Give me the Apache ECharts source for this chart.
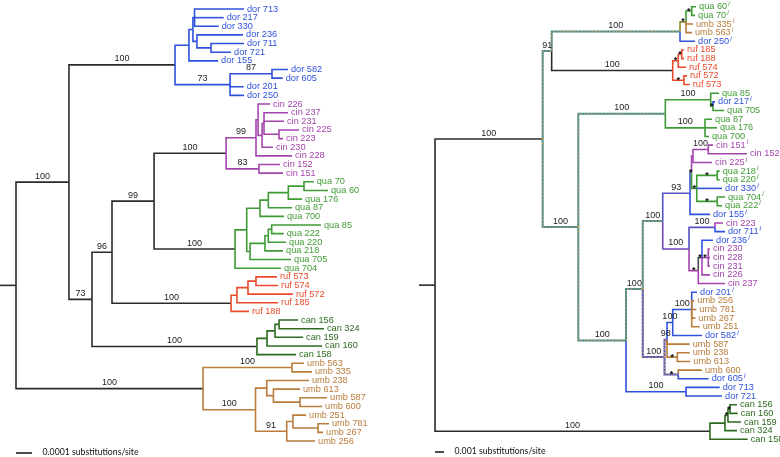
<!DOCTYPE html>
<html><head><meta charset="utf-8">
<script src="https://cdn.jsdelivr.net/npm/echarts@6/dist/echarts.min.js"></script>
<style>html,body{margin:0;padding:0;background:#fff}#c{width:780px;height:457px}</style>
</head><body><div id="c"></div>
<script>
// ---------- LEFT TREE (depth in units of 0.0001 substitutions/site) ----------
const leftInternal = [
  ['root',null,1.0],['IN','root',4.31],['A','IN',10.94],['B','A',11.81],['D','B',12.06],
  ['E','D',12.16],['F','D',12.31],['G','F',13.19],['C','A',14.38],['H','C',17.0],
  ['J','IN',5.75],['K','J',7.0],['L','K',9.63],
  ['CI0','L',14.13],['CI1','CI0',16.0],['CI3','CI1',16.13],['CI4','CI3',16.38],['CI5','CI4',16.5],['CI6','CI5',17.44],['CI2','CI0',16.19],
  ['Q0','L',14.69],['Q1','Q0',15.42],['Q10','Q1',16.25],['Q9','Q10',16.77],['Q8','Q9',18.02],['Q7','Q8',19.0],
  ['Q3','Q1',15.63],['Q4','Q3',16.56],['Q5','Q4',16.77],['Q6','Q5',16.98],
  ['R0','K',14.44],['R1','R0',14.81],['R2','R1',15.5],['R3','R2',16.0],
  ['C0','J',16.06],['C1','C0',16.69],['C2','C1',17.19],['C3','C2',17.44],
  ['U0','root',12.69],['U1','U0',18.25],['U2','U0',15.97],['U3','U2',16.67],['U5','U3',17.09],['U6','U5',18.75],
  ['U4','U2',17.92],['U7','U4',18.31],['U8','U7',19.88]
];
const leftLeaves = [
  ['dor 713','E',15.25],['dor 217','E',13.98],['dor 330','E',13.67],['dor 236','F',15.19],['dor 711','G',15.25],
  ['dor 721','G',14.44],['dor 155','B',13.63],['dor 582','H',18.0],['dor 605','H',17.67],['dor 201','C',15.23],['dor 250','C',15.25],
  ['cin 226','CI3',16.88],['cin 237','CI5',18.0],['cin 231','CI5',17.75],['cin 225','CI6',18.69],['cin 223','CI6',17.69],
  ['cin 230','CI4',17.06],['cin 228','CI1',18.25],['cin 152','CI2',17.5],['cin 151','CI2',17.69],
  ['qua 70','Q7',19.61],['qua 60','Q7',20.5],['qua 176','Q8',18.88],['qua 87','Q9',18.25],['qua 700','Q10',17.75],
  ['qua 85','Q6',20.06],['qua 222','Q6',17.73],['qua 220','Q5',17.88],['qua 218','Q4',17.69],['qua 705','Q3',18.19],['qua 704','Q0',17.56],
  ['ruf 573','R3',17.31],['ruf 574','R3',17.38],['ruf 572','R2',18.31],['ruf 185','R1',17.38],['ruf 188','R0',15.56],
  ['can 156','C3',18.63],['can 324','C3',20.25],['can 159','C2',18.94],['can 160','C1',20.13],['can 158','C0',18.5],
  ['umb 563','U1',19.0],['umb 335','U1',19.5],['umb 238','U3',19.31],['umb 613','U5',18.75],['umb 587','U6',20.44],
  ['umb 600','U6',20.13],['umb 251','U7',19.13],['umb 781','U8',20.56],['umb 267','U8',20.19],['umb 256','U4',19.69]
];
const leftSupport = [
  ['IN',100],['A',100],['C',73],['H',87],['J',73],['K',96],['L',99],['CI0',100],['CI1',99],['CI2',83],
  ['Q0',100],['R0',100],['C0',100],['U0',100],['U1',100],['U2',100],['U4',91]
];
const leftScale = [1, '0.0001 substitutions/site'];

// ---------- RIGHT TREE (depth in units of 0.001 substitutions/site) ----------
const rightInternal = [
  ['root',null,1.78],['IG','root',13.74],['N91','IG',14.74],['A100','N91',29.0],['T1','A100',29.67],['T2','T1',30.3],
  ['R0','N91',28.19],['R2','R0',28.81],['R1','R2',29.19],['R3','R0',29.44],
  ['B1','IG',17.7],['QA','B1',27.37],['QB','QA',32.41],['QB2','QB',32.67],['QC','QA',31.78],
  ['B2','B1',23.0],['B3','B2',24.86],['X1','B3',27.08],['N93','X1',30.11],['P0','N93',30.28],['P1','P0',30.44],
  ['CN','P1',32.14],['G0','P0',30.86],['G1','G0',33.14],['G3','G0',33.14],
  ['NCI','X1',30.0],['N223','NCI',32.89],['Y1','NCI',31.03],['Y2','Y1',31.44],['Y3','Y2',32.14],
  ['X2','B3',27.28],['Z98','X2',27.56],['Zb','Z98',28.19],['Zc','Zb',30.3],['Z238','Z98',28.7],['Z600','X2',28.81],
  ['D713','B2',29.67],['K0','root',32.33],['K1','K0',34.0],['K2','K1',34.33],['K3','K2',34.56]
];
const rightLeaves = [
  ['qua 60','T2',30.78],['qua 70','T2',30.67],['umb 335','T1',30.44],['umb 563','T1',30.33],['dor 250','A100',30.67],
  ['ruf 185','R1',29.44],['ruf 188','R1',29.44],['ruf 574','R2',29.67],['ruf 572','R3',29.78],['ruf 573','R3',30.08],
  ['qua 85','QB',33.33],['dor 217','QB2',32.89],['qua 705','QB2',33.89],['qua 87','QC',32.56],['qua 176','QC',33.11],['qua 700','QC',32.22],
  ['cin 151','CN',32.67],['cin 152','CN',36.44],['cin 225','P1',32.56],['qua 218','G1',33.41],['qua 220','G1',33.41],
  ['dor 330','G0',33.67],['qua 704','G3',34.0],['qua 222','G3',33.67],['dor 155','N93',32.33],
  ['cin 223','N223',33.78],['dor 711','N223',34.0],['dor 236','Y2',32.67],['cin 230','Y3',32.33],['cin 228','Y3',32.33],
  ['cin 231','Y3',32.33],['cin 226','Y2',32.33],['cin 237','Y1',34.0],
  ['dor 201','Zc',30.89],['umb 256','Zc',30.59],['umb 781','Zc',30.81],['umb 267','Zc',30.7],['umb 251','Zc',31.19],
  ['dor 582','Zb',31.44],['umb 587','Z98',30.08],['umb 238','Z238',30.08],['umb 613','Z238',30.14],
  ['umb 600','Z600',31.44],['dor 605','Z600',32.19],['dor 713','D713',33.41],['dor 721','D713',33.67],
  ['can 156','K3',35.33],['can 160','K3',35.41],['can 159','K2',35.78],['can 324','K1',35.33],['can 158','K0',36.52]
];
const rightSupport = [
  ['IG',100],['N91',91],['A100',100],['R0',100],['B1',100],['QA',100],['QB',100],['QC',100],['B2',100],['B3',100],
  ['X1',100],['N93',93],['CN',100],['NCI',100],['N223',100],['X2',100],['Z98',98],['Zb',100],['Zc',100],['D713',100],['K0',100]
];
const rightStars = ['T1','T2','R1','R2','R3','QB2','P0','G0','G1','G3','Y1','Y2','Y3','Z238','Z600','K2','K3'];
const rightMarked = ['qua 60','qua 70','umb 335','umb 563','dor 250','dor 217','cin 151','cin 152','cin 225','qua 218','qua 220',
  'dor 330','qua 704','qua 222','dor 155','dor 711','dor 236','dor 201','dor 582','dor 605'];
const rightBranchStyle = [
  ['IG','k'],['N91','dotT'],['A100','dotT'],['T1','olive'],['T2','qua'],['R0','k'],['R1','ruf'],['R2','ruf'],['R3','ruf'],
  ['B1','dotT'],['QA','dotT'],['QB','qua'],['QB2','qua'],['QC','qua'],['B2','dotT'],['B3','dotT'],['X1','dotT'],
  ['N93','pblue'],['P0','blue2'],['P1','cin'],['CN','cin'],['G0','qua'],['G1','qua'],['G3','qua'],
  ['NCI','violet'],['N223','pblue'],['Y1','cin'],['Y2','gray'],['Y3','cin'],
  ['X2','dotB'],['Z98','dotB'],['Zb','dor'],['Zc','dor'],['Z238','umb'],['Z600','dotB'],['D713','dor'],
  ['K0','k'],['K1','can'],['K2','can'],['K3','can']
];
const rightScale = [1, '0.001 substitutions/site'];

// ---------- styles ----------
const palette = {dor:'#2f52dc', cin:'#a445ae', qua:'#3f9b34', ruf:'#e94b2b', can:'#2d6b20', umb:'#b97c3b',
  k:'#2b2b2b', olive:'#8c8a34', pblue:'#5650c4', blue2:'#3f5ad2', violet:'#7444b6', gray:'#4a4a4a'};
const dotStyles = {dotT:{base:'#3f8c95', dot:'#d39a45'}, dotB:{base:'#4d55bf', dot:'#c8924a'}};
const FONT = 'Liberation Sans';
const HIDDEN = {color:'rgba(0,0,0,0)'};

function buildTree(internal, leaves){
  const nodes = new Map();
  internal.forEach(([id,parent,d])=>nodes.set(id,{id,parent,d,kids:[],leaf:false}));
  leaves.forEach(([id,parent,d],i)=>nodes.set(id,{id,parent,d,kids:[],leaf:true,i}));
  let root;
  nodes.forEach(n=>{ if(n.parent===null) root=n; else nodes.get(n.parent).kids.push(n); });
  (function place(n){
    if(n.leaf){ n.y=n.i; n.first=n.i; n.pre=new Set([n.id.split(' ')[0]]); return; }
    n.kids.forEach(place);
    n.kids.sort((a,b)=>a.first-b.first);
    n.first=n.kids[0].first;
    n.y=(n.kids[0].y+n.kids[n.kids.length-1].y)/2;
    n.pre=new Set(); n.kids.forEach(k=>k.pre.forEach(p=>n.pre.add(p)));
  })(root);
  return {nodes, root};
}

function treeSeries(T, idx, styleOf, support, stars, marked, scale, scaleRow){
  const solid=[], dotBase=[], dotTop=[];
  solid.push({coords:[[0,T.root.y],[T.root.d,T.root.y]], lineStyle:{color:palette.k}});
  T.nodes.forEach(n=>{
    if(n.parent===null) return;
    const p=T.nodes.get(n.parent);
    const coords=[[p.d,p.y],[p.d,n.y],[n.d,n.y]];
    const s=styleOf(n,p);
    if(dotStyles[s]){
      dotBase.push({coords, lineStyle:{color:dotStyles[s].base}});
      dotTop.push({coords, lineStyle:{color:dotStyles[s].dot}});
    } else solid.push({coords, lineStyle:{color:palette[s]}});
  });
  const common={xAxisIndex:idx,yAxisIndex:idx,silent:true,animation:false,clip:false};
  const pts={type:'scatter',symbol:'circle',symbolSize:1,itemStyle:HIDDEN,labelLayout:{hideOverlap:false}};
  const series=[];
  series.push(Object.assign({type:'lines',coordinateSystem:'cartesian2d',polyline:true,
    lineStyle:{width:1.6,opacity:1,cap:'butt',join:'miter'},data:solid,z:2},common));
  series.push(Object.assign({type:'lines',coordinateSystem:'cartesian2d',polyline:true,
    lineStyle:{width:2,opacity:1,cap:'butt',join:'miter'},data:dotBase,z:2},common));
  series.push(Object.assign({type:'lines',coordinateSystem:'cartesian2d',polyline:true,
    lineStyle:{width:1.2,opacity:1,type:[1.5,2],cap:'butt'},data:dotTop,z:3},common));
  // leaf labels
  const markSet=new Set(marked);
  const rich={};
  Object.keys(palette).forEach(k=>rich['s'+k]={fontSize:6.5,fontStyle:'italic',fontFamily:FONT,color:palette[k],
    verticalAlign:'top',padding:[0,0,5,1]});
  const leafData=[];
  T.nodes.forEach(n=>{ if(!n.leaf) return; const pre=n.id.split(' ')[0];
    leafData.push({name:n.id,value:[n.d,n.y],pre,label:{color:palette[pre]}}); });
  series.push(Object.assign({},pts,{data:leafData,z:5,
    label:{show:true,position:'right',distance:2.5,fontSize:9.2,fontFamily:FONT,opacity:1,
      formatter:p=>markSet.has(p.name)? p.name+'{s'+p.data.pre+'|i}' : p.name, rich}},common));
  // support values
  const supData=support.map(([id,v])=>{const n=T.nodes.get(id),p=T.nodes.get(n.parent);
    return {name:String(v),value:[(p.d+n.d)/2,n.y]};});
  series.push(Object.assign({},pts,{data:supData,z:5,
    label:{show:true,position:'top',distance:1,fontSize:9,fontFamily:FONT,color:'#222',opacity:1,formatter:'{b}'}},common));
  // asterisks
  const starData=stars.map(id=>{const n=T.nodes.get(id),p=T.nodes.get(n.parent);
    return {name:'*',value:[(p.d+n.d)/2,n.y]};});
  if(starData.length) series.push(Object.assign({},pts,{data:starData,z:6,
    label:{show:true,position:'inside',offset:[0,-1.5],fontSize:9,fontWeight:'bold',fontFamily:FONT,color:'#111',opacity:1,formatter:'*'}},common));
  // scale bar
  series.push(Object.assign({type:'lines',coordinateSystem:'cartesian2d',polyline:false,
    lineStyle:{width:1.5,color:'#111',opacity:1},data:[{coords:[[T.root.d,scaleRow],[T.root.d+scale[0],scaleRow]]}],z:2},common));
  series.push(Object.assign({},pts,{data:[{name:scale[1],value:[T.root.d+scale[0],scaleRow]}],z:5,
    label:{show:true,position:'right',distance:10,fontSize:8.7,fontFamily:'Lato',color:'#111',opacity:1,formatter:'{b}'}},common));
  return series;
}

const LT=buildTree(leftInternal,leftLeaves);
const RT=buildTree(rightInternal,rightLeaves);
const rStyle=new Map(rightBranchStyle);

const leftStyle=(n,p)=> n.leaf ? n.id.split(' ')[0] : (p.pre.size===1 ? [...p.pre][0] : 'k');
const rightStyleFn=(n,p)=> n.leaf ? n.id.split(' ')[0] : rStyle.get(n.id);

const chart=echarts.init(document.getElementById('c'),null,{renderer:'canvas'});
chart.setOption({
  animation:false,
  backgroundColor:'#ffffff',
  grid:[{left:0,top:9,width:390,height:432},{left:419,top:6.7,width:361,height:432.6}],
  xAxis:[{gridIndex:0,type:'value',min:0,max:24.375,show:false},{gridIndex:1,type:'value',min:0,max:40.11,show:false}],
  yAxis:[{gridIndex:0,type:'value',min:0,max:50,inverse:true,show:false},{gridIndex:1,type:'value',min:0,max:50,inverse:true,show:false}],
  series:[
    ...treeSeries(LT,0,leftStyle,leftSupport,[],[],leftScale,51.31),
    ...treeSeries(RT,1,rightStyleFn,rightSupport,rightStars,rightMarked,rightScale,51.43)
  ]
});
</script></body></html>
